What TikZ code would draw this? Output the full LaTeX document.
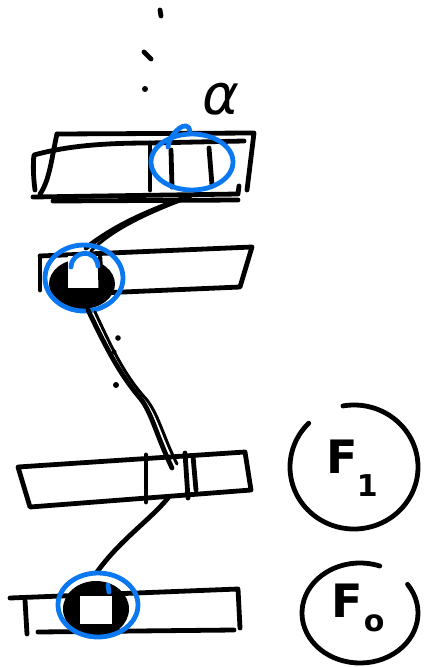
\documentclass[tikz,border=0pt]{standalone}
\usepackage{fontspec}
\setsansfont{DejaVu Sans}
\usetikzlibrary{calc}
\definecolor{pen}{HTML}{0A78F0}
\tikzset{
  ink/.style={line width=4.8pt, line cap=round, line join=round, draw=black},
  blueink/.style={line width=4.8pt, line cap=round, line join=round, draw=pen},
  thinink/.style={line width=3pt, line cap=round, line join=round, draw=black},
  label/.style={inner sep=0pt, font=\sffamily\bfseries}
}
\begin{document}
\begin{tikzpicture}[x=1pt,y=-1pt]
\useasboundingbox (0,0) rectangle (424,667);
% joints
\coordinate (j3) at (192,162);
\coordinate (j2) at (84,278);
\coordinate (j1) at (172,468);
\coordinate (j0) at (98,605);
\coordinate (c1) at (354,467);
\coordinate (c0) at (360,613);

% top dots
\draw[ink] (160,10) -- (161,16);
\draw[ink] (144,52) -- (151,59);
\fill (145,89) circle (3pt);
\node[inner sep=0pt, font=\sffamily\itshape\fontsize{56}{56}\selectfont] (alpha) at (221,99) {α};

% top box (double sketched)
\draw[ink] (57,134) -- (254,133) -- (247,190);
\draw[ink] (57,134) .. controls (52,155) and (50,180) .. (40,194);
\draw[ink] (33,197) -- (238,194) -- (239,186);
\draw[ink] (53,201) -- (238,200);
\draw[ink] (35,190) .. controls (33,175) and (33,162) .. (34,155) .. controls (70,145) and (110,143) .. (150,143) -- (244,141);
\draw[ink] (150,143) -- (150,190);
\draw[ink] (171,150) -- (172,187);
\draw[ink] (209,148) -- (212,185);
\draw[blueink] (j3) ellipse [x radius=41, y radius=28];
\draw[blueink] (168,147) .. controls (170,132) and (188,118) .. (190,131);

% connector top -> second
\draw[ink] ($(j3)+(-2,34)$) .. controls (150,210) and (115,225) .. ($(j2)+(2,-30)$);
\draw[thinink] ($(j3)+(-7,37)$) .. controls (145,214) and (112,230) .. ($(j2)+(7,-27)$);

% second box
\draw[ink] (40,256) -- (40,290);
\draw[ink] (40,256) -- (252,247) -- (240,287) -- (100,293);
\fill (j2) ++(-2,6) ellipse [x radius=33, y radius=25];
\fill[white] (68,256) rectangle (100,288);
\draw[ink] (100,258) -- (101,292);
\draw[blueink] (j2) ellipse [x radius=39, y radius=33];
\draw[blueink] (71,267) .. controls (72,250) and (96,248) .. (98,266);

% long connector second -> third
\draw[ink] ($(j2)+(4,32)$) .. controls (105,345) and (118,372) .. (140,398)
  .. controls (152,413) and (155,432) .. (j1);
\draw[thinink] ($(j2)+(11,34)$) .. controls (112,348) and (124,375) .. (147,400)
  .. controls (159,416) and (163,436) .. ($(j1)+(5,-4)$);
\fill (118,338) circle (2.8pt);
\fill (114,352) circle (2.6pt);
\fill (116,385) circle (3pt);

% third box
\draw[ink] (18,467) -- (245,452) -- (251,490) -- (30,507) -- cycle;
\draw[ink] (146,455) -- (146,502);
\draw[ink] (185,453) -- (188,498);
\draw[ink] (193,456) -- (196,490);

% connector third -> bottom
\draw[ink] ($(j1)+(-4,30)$) .. controls (150,520) and (120,540) .. ($(j0)+(-1,-33)$);

% bottom box
\draw[ink] (10,598) -- (238,589) -- (240,628);
\draw[ink] (25,600) -- (27,634);
\draw[ink] (38,632) -- (234,630);
\fill (j0) ++(-2,4) ellipse [x radius=33, y radius=28];
\fill[white] (80,596) rectangle (112,624);
\draw[blueink] (j0) ellipse [x radius=40, y radius=32];
\draw[blueink] (108,585) -- (109,592);

% F1
\draw[ink] (c1) ++(-100:64 and 62) arc[start angle=-100, end angle=225, x radius=64, y radius=62];
\node[label, font=\sffamily\bfseries\fontsize{46}{46}\selectfont] (F1) at (352,468)
  {F\kern-1pt\raisebox{-0.5em}{\fontsize{30}{30}\selectfont 1}};

% F0
\draw[ink] (c0) ++(-35:58 and 50) arc[start angle=-35, end angle=290, x radius=58, y radius=50];
\node[label, font=\sffamily\bfseries\fontsize{46}{46}\selectfont] (F0) at (358,608)
  {F\kern1pt\raisebox{-0.3em}{\fontsize{30}{30}\selectfont o}};
\end{tikzpicture}
\end{document}
